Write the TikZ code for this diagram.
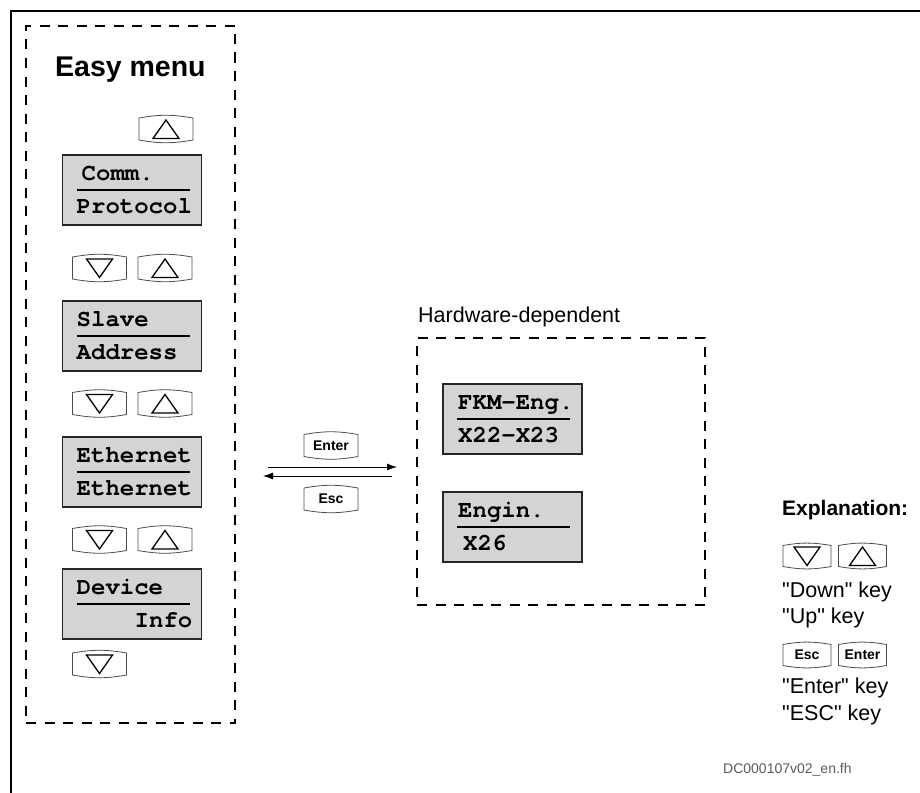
\documentclass[tikz,border=0pt]{standalone}
\usepackage{fontspec}
\setmainfont{Liberation Sans}
\newfontfamily\plainsans{Liberation Sans}
\newfontfamily\lcdfont{TeX Gyre Cursor}
\usetikzlibrary{calc,arrows.meta}
\definecolor{lcdgray}{HTML}{D4D4D4}
\definecolor{footgray}{HTML}{5A5A5A}
\newcommand\keyshape[1]{\draw[keyline] (#1.north west) to[bend left=10] (#1.north east) -- (#1.south east) to[bend left=10] (#1.south west) -- cycle;}
\newcommand\downtri[1]{\draw[tri] ([shift={(-13pt,9pt)}]#1.center) -- ([shift={(13pt,9pt)}]#1.center) -- ([shift={(0pt,-9.5pt)}]#1.center) -- cycle;}
\newcommand\uptri[1]{\draw[tri] ([shift={(-13pt,-9.5pt)}]#1.center) -- ([shift={(13pt,-9.5pt)}]#1.center) -- ([shift={(0pt,9pt)}]#1.center) -- cycle;}
\newcommand\lcdline[1]{\draw[divider] ([xshift=14pt,yshift=-35pt]#1.north west) -- ([xshift=-12pt,yshift=-35pt]#1.north east);}
\begin{document}
\begin{tikzpicture}[x=1pt,y=-1pt,
  frame/.style={line width=2pt},
  dashbox/.style={draw, line width=2.4pt, dash pattern=on 10pt off 8.5pt, outer sep=0pt, inner sep=0pt, anchor=north west},
  lcd/.style={draw=black!85, line width=1.1pt, fill=lcdgray, minimum width=139pt, minimum height=70pt, anchor=north west, inner sep=0pt, outer sep=0pt},
  lcdtxt/.style={font=\lcdfont\fontsize{24}{28}\selectfont, anchor=base west, inner sep=0pt},
  lcdbold/.style={lcdtxt, font=\lcdfont\bfseries\fontsize{24}{28}\selectfont},
  divider/.style={line width=1.8pt},
  keynode/.style={minimum width=54pt, minimum height=22pt, inner sep=0pt, outer sep=0pt},
  smallkey/.style={keynode, minimum width=48pt, minimum height=21pt},
  keyline/.style={draw=black!70, line width=0.8pt},
  tri/.style={line width=1.3pt, line join=miter},
  keylabel/.style={font=\bfseries\fontsize{14}{16}\selectfont},
  txt/.style={font=\plainsans\fontsize{21.5}{26}\selectfont, anchor=base west, inner sep=0pt},
  headtxt/.style={font=\bfseries\fontsize{28.5}{32}\selectfont, anchor=base west, inner sep=0pt},
  arr/.style={line width=0.9pt, -{Latex[length=10pt,width=7pt]}}
]
\useasboundingbox (0,0) rectangle (920,792);
% outer frame
\draw[frame] (11,795) -- (11,11) -- (925,11);

% dashed groups
\node[dashbox, minimum width=209pt, minimum height=697pt] (easy) at (26,26) {};
\node[dashbox, minimum width=288pt, minimum height=267pt] (hw) at (417,338) {};
\node[headtxt] (easyt) at (55,77) {Easy menu};
\node[txt] (hwt) at (418,322) {Hardware-dependent};

% LCD boxes, easy menu
\node[lcd] (c1) at (62.5,155) {};
\node[lcd] (c2) at (62.5,301) {};
\node[lcd] (c3) at (62.5,437) {};
\node[lcd] (c4) at (62.5,569) {};
\foreach \b in {c1,c2,c3,c4} {\lcdline{\b}}
\node[lcdbold] (c1a) at ([shift={(19pt,-25pt)}]c1.north west) {Comm.};
\node[lcdbold] (c1b) at ([shift={(14pt,-58pt)}]c1.north west) {Protocol};
\node[lcdbold] (c2a) at ([shift={(14pt,-25pt)}]c2.north west) {Slave};
\node[lcdbold] (c2b) at ([shift={(14pt,-58pt)}]c2.north west) {Address};
\node[lcdbold] (c3a) at ([shift={(14pt,-25pt)}]c3.north west) {Ethernet};
\node[lcdbold] (c3b) at ([shift={(14pt,-58pt)}]c3.north west) {Ethernet};
\node[lcdbold] (c4a) at ([shift={(14pt,-25pt)}]c4.north west) {Device};
\node[lcdbold] (c4b) at ([shift={(72pt,-58pt)}]c4.north west) {Info};

% LCD boxes, hardware-dependent
\node[lcd] (f1) at (443,384) {};
\node[lcd] (f2) at (443,492) {};
\foreach \b in {f1,f2} {\lcdline{\b}}
\node[lcdbold] (f1a) at ([shift={(15pt,-25pt)}]f1.north west) {FKM-Eng.};
\node[lcdbold] (f1b) at ([shift={(15pt,-58pt)}]f1.north west) {X22-X23};
\node[lcdbold] (f2a) at ([shift={(15pt,-25pt)}]f2.north west) {Engin.};
\node[lcdbold] (f2b) at ([shift={(20pt,-58pt)}]f2.north west) {X26};

% keys, easy menu
\node[keynode] (k0u) at (166,129) {};
\node[keynode] (k1d) at (99.5,268) {};
\node[keynode] (k1u) at (165,268) {};
\node[keynode] (k2d) at (99.5,403.5) {};
\node[keynode] (k2u) at (165,403.5) {};
\node[keynode] (k3d) at (99.5,539.5) {};
\node[keynode] (k3u) at (165,539.5) {};
\node[keynode] (k4d) at (99.5,664) {};

% Enter / Esc keys in the middle
\node[keynode, keylabel] (kent) at (331,445.5) {Enter};
\node[keynode, keylabel] (kesc) at (331,499) {Esc};

% explanation
\node[txt, font=\plainsans\bfseries\fontsize{21}{26}\selectfont] (expl) at (782,515) {Explanation:};
\node[smallkey] (xd) at (807,556) {};
\node[smallkey] (xu) at (862.5,556) {};
\node[txt] (t1) at (782,597) {"Down" key};
\node[txt] (t2) at (782,623) {"Up" key};
\node[smallkey, keylabel] (xesc) at (807,655) {Esc};
\node[smallkey, keylabel] (xent) at (862.5,655) {Enter};
\node[txt] (t3) at (782,693) {"Enter" key};
\node[txt] (t4) at (782,720) {"ESC" key};

% key outlines and symbols
\foreach \k in {k0u,k1d,k1u,k2d,k2u,k3d,k3u,k4d,kent,kesc,xd,xu,xesc,xent} {\keyshape{\k}}
\foreach \k in {k1d,k2d,k3d,k4d,xd} {\downtri{\k}}
\foreach \k in {k0u,k1u,k2u,k3u,xu} {\uptri{\k}}

% arrows between the groups
\coordinate (ay1) at (0,467);
\coordinate (ay2) at (0,476);
\draw[arr, shorten <=33pt, shorten >=20pt] (easy.east |- ay1) -- (hw.west |- ay1);
\draw[arr, shorten <=25pt, shorten >=28pt] (hw.west |- ay2) -- (easy.east |- ay2);

% footer
\node[font=\plainsans\fontsize{14}{16}\selectfont, text=footgray, anchor=base west, inner sep=0pt] (foot) at (723,773) {DC000107v02\_en.fh};
\end{tikzpicture}
\end{document}
